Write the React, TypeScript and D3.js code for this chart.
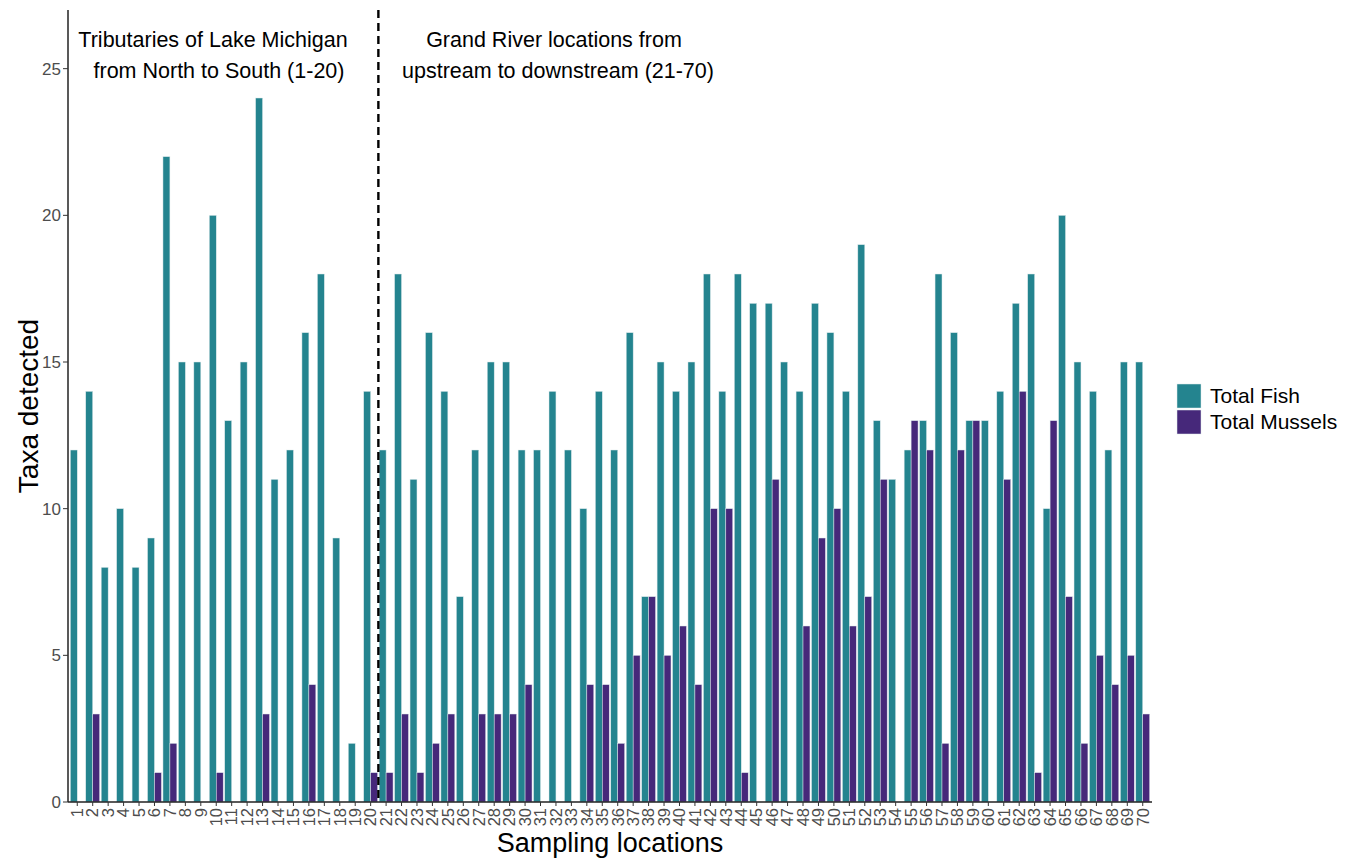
import React from "react";
import * as d3 from "d3";

const locations: string[] = Array.from({ length: 70 }, (_, i) => String(i + 1));
const totalFish: number[] = [
  12, 14, 8, 10, 8, 9, 22, 15, 15, 20, 13, 15, 24, 11, 12, 16, 18, 9, 2, 14,
  12, 18, 11, 16, 14, 7, 12, 15, 15, 12, 12, 14, 12, 10, 14, 12, 16, 7, 15, 14,
  15, 18, 14, 18, 17, 17, 15, 14, 17, 16, 14, 19, 13, 11, 12, 13, 18, 16, 13, 13,
  14, 17, 18, 10, 20, 15, 14, 12, 15, 15,
];
const totalMussels: number[] = [
  0, 3, 0, 0, 0, 1, 2, 0, 0, 1, 0, 0, 3, 0, 0, 4, 0, 0, 0, 1,
  1, 3, 1, 2, 3, 0, 3, 3, 3, 4, 0, 0, 0, 4, 4, 2, 5, 7, 5, 6,
  4, 10, 10, 1, 0, 11, 0, 6, 9, 10, 6, 7, 11, 0, 13, 12, 2, 12, 13, 0,
  11, 14, 1, 13, 7, 2, 5, 4, 5, 3,
];
const seriesNames = ["Total Fish", "Total Mussels"];
const seriesColors = ["#24848F", "#46287A"];
const yTicks = [0, 5, 10, 15, 20, 25];

export default function App() {
  const W = 1354, H = 858;
  const left = 68, right = 1152, top = 10, bottom = 802;
  const x = d3.scaleBand<string>().domain(locations).range([left, right]).paddingInner(0.1).paddingOuter(0.15);
  const xs = d3.scaleBand<string>().domain(seriesNames).range([0, x.bandwidth()]);
  const y = d3.scaleLinear().domain([0, 27]).range([bottom, top]);
  const font = "Liberation Sans, Arial, sans-serif";
  const values = [totalFish, totalMussels];
  const splitX = (x("20")! + x("21")! + x.bandwidth()) / 2;

  return (
    <svg width={W} height={H} style={{ position: "absolute", left: 0, top: 0, background: "#fff" }} fontFamily={font}>
      {values.map((vals, si) =>
        vals.map((v, i) =>
          v > 0 ? (
            <rect
              key={`${si}-${i}`}
              x={x(locations[i])! + xs(seriesNames[si])!}
              y={y(v)}
              width={xs.bandwidth()}
              height={y(0) - y(v)}
              fill={seriesColors[si]}
              stroke="#dde9ec"
              strokeWidth={0.5}
            />
          ) : null
        )
      )}
      {/* axes */}
      <line x1={left} x2={left} y1={top} y2={bottom} stroke="#222" strokeWidth={1.5} />
      <line x1={left} x2={right} y1={bottom} y2={bottom} stroke="#222" strokeWidth={1.5} />
      {yTicks.map((t) => (
        <g key={t}>
          <line x1={left - 5} x2={left} y1={y(t)} y2={y(t)} stroke="#333" strokeWidth={1} />
          <text x={left - 7} y={y(t)} dy="0.35em" textAnchor="end" fontSize={17} fill="#4d4d4d">
            {t}
          </text>
        </g>
      ))}
      {locations.map((l) => {
        const cx = x(l)! + x.bandwidth() / 2;
        return (
          <g key={l}>
            <line x1={cx} x2={cx} y1={bottom} y2={bottom + 4} stroke="#333" strokeWidth={1} />
            <text
              transform={`translate(${cx},${bottom + 6}) rotate(-90)`}
              textAnchor="end"
              dy="0.35em"
              fontSize={16.5}
              fill="#4d4d4d"
            >
              {l}
            </text>
          </g>
        );
      })}
      {/* dashed divider */}
      <line x1={splitX} x2={splitX} y1={top} y2={bottom} stroke="#000" strokeWidth={2.4} strokeDasharray="8,5" />
      {/* annotations */}
      <text x={213} y={47} textAnchor="middle" fontSize={21.5} fill="#000">Tributaries of Lake Michigan</text>
      <text x={219} y={78} textAnchor="middle" fontSize={21.5} fill="#000">from North to South (1-20)</text>
      <text x={554} y={47} textAnchor="middle" fontSize={21.5} fill="#000">Grand River locations from</text>
      <text x={558} y={78} textAnchor="middle" fontSize={21.5} fill="#000">upstream to downstream (21-70)</text>
      {/* axis titles */}
      <text x={610} y={852} textAnchor="middle" fontSize={27} fill="#000">Sampling locations</text>
      <text transform={`translate(38,${(top + bottom) / 2}) rotate(-90)`} textAnchor="middle" fontSize={28} fill="#000">
        Taxa detected
      </text>
      {/* legend */}
      {seriesNames.map((s, i) => (
        <g key={s} transform={`translate(1177,${384 + i * 26})`}>
          <rect width={24} height={24} fill={seriesColors[i]} stroke="#dde9ec" strokeWidth={0.5} />
          <text x={33} y={12} dy="0.35em" fontSize={21} fill="#000">{s}</text>
        </g>
      ))}
    </svg>
  );
}
